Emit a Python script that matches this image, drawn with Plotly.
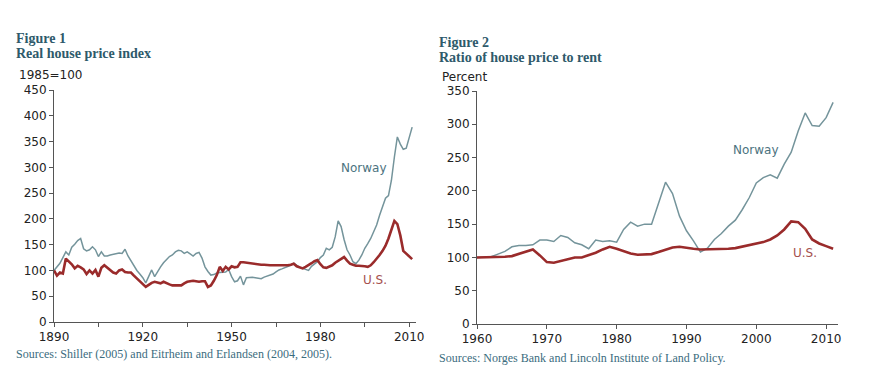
import plotly.graph_objects as go

# ---- Figure 1 data: real house price index (1985=100), annual ----
years1 = list(range(1890, 2012))
norway1 = [100, 106, 114, 125, 136, 130, 145, 151, 158, 162,
           142, 138, 140, 146, 140, 127, 136, 128, 128, 130,
           131, 133, 134, 133, 141, 128, 118, 108, 100, 93,
           86, 76, 90, 101, 88, 98, 107, 115, 122, 127,
           130, 136, 139, 138, 133, 136, 132, 128, 133, 135,
           124, 107, 98, 91, 92, 95, 96, 96, 97, 102,
           88, 78, 80, 89, 72, 86, 87, 87, 86, 85,
           84, 87, 89, 91, 93, 97, 101, 103, 105, 107,
           110, 114, 110, 106, 104, 102, 100, 108, 112, 117,
           125, 130, 143, 140, 145, 165, 196, 185, 160, 140,
           130, 117, 113, 120, 130, 143, 152, 162, 175, 188,
           207, 225, 240, 245, 275, 320, 359, 345, 335, 337,
           356, 378]
us1 = [100, 90, 96, 94, 123, 118, 112, 104, 109, 106,
       102, 93, 100, 94, 101, 88, 105, 110, 105, 100,
       96, 94, 100, 102, 97, 96, 96, 90, 84, 78,
       72, 68, 72, 76, 78, 76, 75, 78, 75, 73,
       71, 71, 70, 71, 75, 78, 79, 80, 79, 78,
       79, 79, 68, 71, 80, 91, 107, 99, 107, 102,
       108, 106, 107, 116, 116, 115, 114, 113, 112, 112,
       111, 111, 110, 110, 110, 110, 110, 109, 110, 110,
       111, 113, 108, 106, 104, 107, 110, 114, 118, 120,
       112, 106, 105, 107, 110, 115, 119, 123, 126, 119,
       113, 111, 109, 109, 109, 108, 107, 110, 116, 122,
       130, 138, 148, 162, 180, 196, 190, 168, 138, 133,
       127, 122]
xticks1 = [1890, 1905, 1920, 1935, 1950, 1965, 1980, 1995, 2010]
xlabels1 = ["1890", "", "1920", "", "1950", "", "1980", "", "2010"]
yticks1 = [0, 50, 100, 150, 200, 250, 300, 350, 400, 450]

# ---- Figure 2 data: ratio of house price to rent (percent), annual ----
years2 = list(range(1960, 2012))
norway2 = [100, 100, 101, 105, 109, 116, 118, 118, 119, 126,
           126, 124, 133, 130, 122, 119, 113, 126, 124, 125,
           123, 142, 153, 147, 150, 150, 182, 213, 196, 162,
           140, 125, 108, 114, 127, 136, 147, 156, 172, 190,
           212, 220, 224, 219, 240, 258, 290, 317, 298, 297,
           310, 333]
us2 = [100, 100, 100, 100, 101, 102, 105, 108, 112, 103,
       93, 92, 95, 98, 100, 100, 103, 107, 112, 116,
       113, 109, 106, 104, 104, 105, 108, 112, 115, 116,
       114, 113, 112, 112, 112, 113, 113, 114, 116, 118,
       121, 123, 127, 133, 142, 154, 153, 143, 127, 121,
       117, 113]
xticks2 = [1960, 1970, 1980, 1990, 2000, 2010]
yticks2 = [0, 50, 100, 150, 200, 250, 300, 350]

NOR = "#74949b"
USC = "#9a2b2b"
TITLE = "#2e5a6b"
AX = "#555555"
# page has an 8px body margin; figure sized to fit the 874x373 window
OFF = 8
W, H = 874 - OFF, 373 - OFF


def fx(px):
    return (px - OFF) / W


def fy(py):
    return 1 - (py - OFF) / H


fig = go.Figure()
fig.add_trace(go.Scatter(x=years1, y=norway1, mode="lines", line=dict(color=NOR, width=1.5),
                         xaxis="x", yaxis="y", showlegend=False))
fig.add_trace(go.Scatter(x=years1, y=us1, mode="lines", line=dict(color=USC, width=2.6),
                         xaxis="x", yaxis="y", showlegend=False))
fig.add_trace(go.Scatter(x=years2, y=norway2, mode="lines", line=dict(color=NOR, width=1.5),
                         xaxis="x2", yaxis="y2", showlegend=False))
fig.add_trace(go.Scatter(x=years2, y=us2, mode="lines", line=dict(color=USC, width=2.6),
                         xaxis="x2", yaxis="y2", showlegend=False))

axfont = dict(family="DejaVu Sans", size=12, color="#222")
common = dict(showgrid=False, zeroline=False, showline=True, linecolor=AX, linewidth=1,
              ticks="outside", ticklen=4, tickcolor=AX, tickfont=axfont, automargin=False)

fig.update_layout(
    width=W, height=H, margin=dict(l=0, r=0, t=0, b=0, autoexpand=False),
    paper_bgcolor="white", plot_bgcolor="white",
    xaxis=dict(domain=[fx(54), fx(416)], range=[1890, 2012.3], tickvals=xticks1,
               ticktext=xlabels1, anchor="y", **common),
    yaxis=dict(domain=[fy(322), fy(90)], range=[0, 450], tickvals=yticks1,
               anchor="x", **common),
    xaxis2=dict(domain=[fx(477), fx(838)], range=[1960, 2011.7], tickvals=xticks2,
                anchor="y2", **common),
    yaxis2=dict(domain=[fy(324), fy(91)], range=[0, 350], tickvals=yticks2,
                anchor="x2", **common),
)


def ptxt(text, px, py, font, xanchor="left"):
    fig.add_annotation(text=text, x=fx(px), y=fy(py), xref="paper", yref="paper",
                       xanchor=xanchor, yanchor="middle", showarrow=False, font=font)


tfont = dict(family="Liberation Serif", size=14, color=TITLE)
sfont = dict(family="Liberation Serif", size=12, color="#3b6c7e")
ufont = dict(family="DejaVu Sans", size=12, color="#222")

ptxt("<b>Figure 1</b>", 14, 38, tfont)
ptxt("<b>Real house price index</b>", 14, 53, tfont)
ptxt("1985=100", 17, 75, ufont)
ptxt("Sources: Shiller (2005) and Eitrheim and Erlandsen (2004, 2005).", 14, 354, sfont)

ptxt("<b>Figure 2</b>", 437, 42, tfont)
ptxt("<b>Ratio of house price to rent</b>", 437, 57, tfont)
ptxt("Percent", 440, 77, ufont)
ptxt("Sources: Norges Bank and Lincoln Institute of Land Policy.", 437, 358, sfont)

lab_n = dict(family="DejaVu Sans", size=12, color="#4c7380")
lab_u = dict(family="DejaVu Sans", size=12, color="#a5504e")
fig.add_annotation(text="Norway", x=1994.8, y=298, xref="x", yref="y", showarrow=False, font=lab_n)
fig.add_annotation(text="U.S.", x=1998.5, y=81, xref="x", yref="y", showarrow=False, font=lab_u)
fig.add_annotation(text="Norway", x=2000, y=262, xref="x2", yref="y2", showarrow=False, font=lab_n)
fig.add_annotation(text="U.S.", x=2007, y=107, xref="x2", yref="y2", showarrow=False, font=lab_u)

fig.write_html("out.html")
